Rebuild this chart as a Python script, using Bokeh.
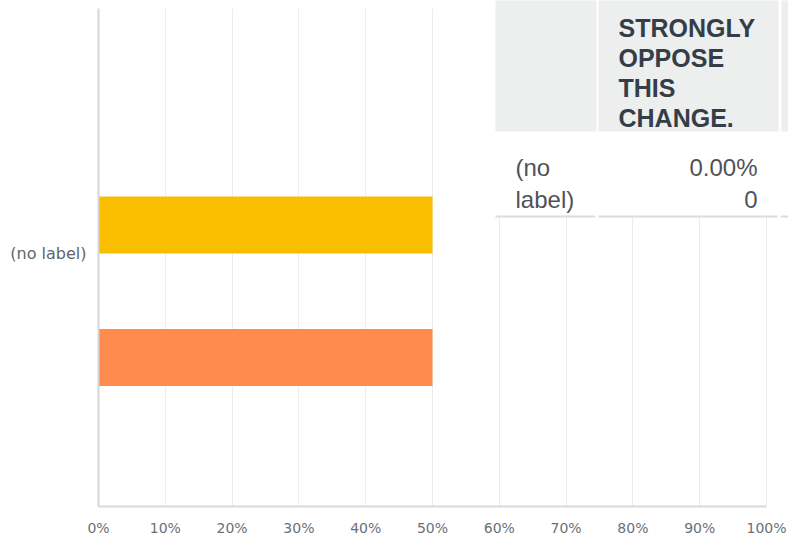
from bokeh.plotting import figure
from bokeh.models import FactorRange, FixedTicker, BoxAnnotation, Label, Range1d
from bokeh.transform import dodge
from bokeh.embed import file_html
from bokeh.resources import INLINE

# ---- data ----
categories = ["(no label)"]
series_names = ["Series A", "Series B"]
series_values = [50.0, 50.0]
series_colors = ["#F9BE00", "#FF8B4F"]
x_ticks = [0, 10, 20, 30, 40, 50, 60, 70, 80, 90, 100]
x_tick_labels = ["0%", "10%", "20%", "30%", "40%", "50%", "60%", "70%", "80%", "90%", "100%"]

table_header = ["STRONGLY", "OPPOSE", "THIS", "CHANGE."]
table_row_label = ["(no", "label)"]
table_row_values = ["0.00%", "0"]

# ---- layout ----
W, H = 788, 541
FL, FR, FT, FB = 98, 788, 0, 506          # frame edges in pixels
AXIS_RIGHT = 766                           # pixel of 100 %
FH = FB - FT
bar_offsets = [(FH / 2 - 224.5) / FH, (FH / 2 - 357.0) / FH]
bar_height = 57.0 / FH
x_end = 100.0 * (FR - FL) / (AXIS_RIGHT - FL)

p = figure(width=W, height=H, y_range=FactorRange(factors=categories, range_padding=0),
           x_range=Range1d(0, x_end), output_backend="svg", toolbar_location=None,
           min_border_left=FL, min_border_right=W - FR, min_border_top=FT, min_border_bottom=H - FB)
p.outline_line_color = None
p.background_fill_color = "white"
p.border_fill_color = "white"

for name, val, col, off in zip(series_names, series_values, series_colors, bar_offsets):
    src = {"cat": categories, "val": [val]}
    p.hbar(y=dodge("cat", off, range=p.y_range), left=0, right="val", height=bar_height,
           source=src, fill_color=col, line_color=None)

# axes
p.xaxis.ticker = FixedTicker(ticks=x_ticks)
p.xaxis.bounds = (x_ticks[0], x_ticks[-1])
p.xaxis.major_label_overrides = {t: l for t, l in zip(x_ticks, x_tick_labels)}
p.xaxis.major_tick_line_color = None
p.xaxis.minor_tick_line_color = None
p.xaxis.axis_line_color = "#d9d9d9"
p.xaxis.axis_line_width = 2
p.xaxis.major_label_standoff = 7
p.xaxis.major_label_text_font = "DejaVu Sans"
p.xaxis.major_label_text_font_size = "14px"
p.xaxis.major_label_text_color = "#6b7079"

p.yaxis.bounds = (0, (FB - 8) / FH)
p.yaxis.major_tick_line_color = None
p.yaxis.minor_tick_line_color = None
p.yaxis.axis_line_color = "#d6d6d6"
p.yaxis.axis_line_width = 2
p.yaxis.major_label_standoff = 6
p.yaxis.major_label_text_font = "DejaVu Sans"
p.yaxis.major_label_text_font_size = "16px"
p.yaxis.major_label_text_color = "#5f6670"

p.xgrid.grid_line_color = "#ececec"
p.xgrid.grid_line_width = 1
p.ygrid.grid_line_color = None

# ---- overlay table (screen units relative to frame) ----
def sx(px):
    return px - FL
def sy(py):
    return FB - py

def box(l, r, t, b, color):
    p.add_layout(BoxAnnotation(left=sx(l), right=sx(r), top=sy(t), bottom=sy(b),
                               left_units="screen", right_units="screen",
                               top_units="screen", bottom_units="screen",
                               fill_color=color, fill_alpha=1.0, line_color=None, level="overlay"))

# blank strip above the chart area
box(FL, FR, -2, 8, "white")
# white table background
box(495, 790, -2, 217, "white")
# header cells
for l, r in [(495, 596), (598, 778), (781, 790)]:
    box(l, r, -2, 131, "#edeeee")
# bottom border segments
for l, r in [(495, 595), (598, 777), (780, 790)]:
    box(l, r, 215, 217, "#dcdcdc")

for i, t in enumerate(table_header):
    p.add_layout(Label(x=sx(618), y=sy(27 + 30 * i), x_units="screen", y_units="screen", text=t,
                       text_font="Liberation Sans", text_font_style="bold", text_font_size="25px",
                       text_color="#333e48", text_baseline="alphabetic", text_align="left", level="overlay"))
for i, t in enumerate(table_row_label):
    p.add_layout(Label(x=sx(515), y=sy(167 + 32 * i), x_units="screen", y_units="screen", text=t,
                       text_font="Liberation Sans", text_font_size="24px",
                       text_color="#4f5358", text_baseline="alphabetic", text_align="left", level="overlay"))
for i, t in enumerate(table_row_values):
    p.add_layout(Label(x=sx(757), y=sy(167 + 32 * i), x_units="screen", y_units="screen", text=t,
                       text_font="Liberation Sans", text_font_size="24px",
                       text_color="#4f5358", text_baseline="alphabetic", text_align="right", level="overlay"))

open("out.html", "w").write(file_html(p, INLINE))
